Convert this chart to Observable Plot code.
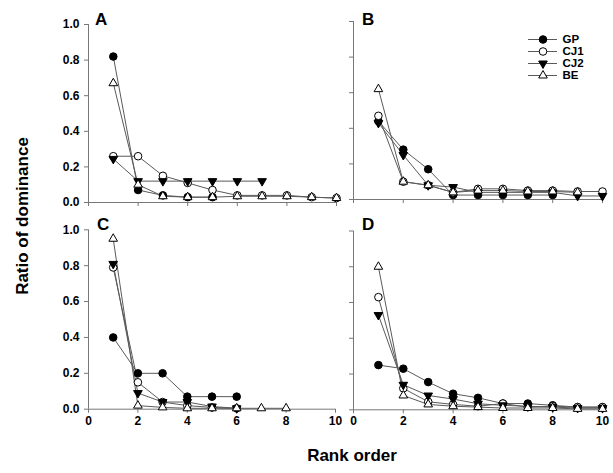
<!DOCTYPE html>
<html><head><meta charset="utf-8">
<script src="https://cdn.jsdelivr.net/npm/d3@7"></script>
<script src="https://cdn.jsdelivr.net/npm/@observablehq/plot@0.6"></script>
<style>
body{margin:0;background:#fff;}
#chart{position:relative;width:613px;height:473px;font-family:"Liberation Sans",Arial,sans-serif;overflow:hidden;}
#chart svg{position:absolute;overflow:visible;background:transparent;}
.lab{position:absolute;font-weight:bold;font-size:17px;color:#000;white-space:nowrap;line-height:1;font-family:"Liberation Sans",Arial,sans-serif;}
</style></head><body><div id="chart"></div>
<script>
const series = ["GP","CJ1","CJ2","BE"];
const rankTicks = [0,2,4,6,8,10];
const ratioTicks = [0,0.2,0.4,0.6,0.8,1.0];
const panelNames = ["A","B","C","D"];

// Panel A
const A_GP  = [0.82,0.07,0.04,0.03,0.03];
const A_CJ1 = [0.26,0.26,0.15,0.11,0.07,0.04,0.04,0.04,0.03,0.025];
const A_CJ2 = [0.245,0.12,0.12,0.12,0.12,0.12,0.12];
const A_BE  = [0.67,0.10,0.035,0.03,0.03,0.035,0.035,0.035,0.03,0.025];
// Panel B
const B_GP  = [0.44,0.28,0.17,0.025,0.025,0.025,0.025,0.025];
const B_CJ1 = [0.47,0.10,0.08,0.04,0.06,0.06,0.05,0.05,0.045,0.045];
const B_CJ2 = [0.43,0.25,0.08,0.07,0.04,0.04,0.04,0.04,0.02,0.02];
const B_BE  = [0.62,0.10,0.08,0.04,0.05,0.05,0.045,0.045,0.04];
// Panel C
const C_GP  = [0.40,0.20,0.20,0.07,0.07,0.07];
const C_CJ1 = [0.79,0.15,0.04,0.02,0.01,0.005];
const C_CJ2 = [0.81,0.09,0.04,0.04,0.015,0.005];
const C_BE  = [0.95,0.02,0.01,0.005,0.005,0.005,0.005,0.005];
// Panel D
const D_GP  = [0.25,0.23,0.155,0.09,0.067,0.035,0.035,0.025,0.015,0.015];
const D_CJ1 = [0.63,0.12,0.045,0.03,0.02,0.035,0.015,0.02,0.015,0.015];
const D_CJ2 = [0.53,0.14,0.08,0.06,0.034,0.025,0.02,0.015,0.01,0.01];
const D_BE  = [0.80,0.08,0.03,0.02,0.015,0.01,0.01,0.01,0.005,0.005];

const panelData = {
  A: [A_GP, A_CJ1, A_CJ2, A_BE],
  B: [B_GP, B_CJ1, B_CJ2, B_BE],
  C: [C_GP, C_CJ1, C_CJ2, C_BE],
  D: [D_GP, D_CJ1, D_CJ2, D_BE]
};

const lineColor = "#5a5a5a";
const axisColor = "#777";
const fontFam = "'Liberation Sans', Arial, sans-serif";

const downTriangle = {
  draw(ctx, size) {
    const y = -Math.sqrt(size / (Math.sqrt(3) * 3));
    ctx.moveTo(0, -y * 2);
    ctx.lineTo(-Math.sqrt(3) * y, y);
    ctx.lineTo(Math.sqrt(3) * y, y);
    ctx.closePath();
  }
};
const styles = {
  GP:  {symbol: "circle", fill: "black", r: 3.8},
  CJ1: {symbol: "circle", fill: "white", r: 3.8},
  CJ2: {symbol: downTriangle, fill: "black", r: 3.2},
  BE:  {symbol: "triangle", fill: "white", r: 3.2}
};

const layout = {
  A: {left: 0,   top: 0,   width: 345, height: 215, mL: 88, mR: 9,  mT: 24,   mB: 13,   yLab: true,  xLab: false, lx: 95,  ly: 11},
  B: {left: 340, top: 0,   width: 273, height: 215, mL: 13, mR: 11, mT: 21,   mB: 16,   yLab: false, xLab: false, lx: 362, ly: 11},
  C: {left: 0,   top: 215, width: 345, height: 215, mL: 88, mR: 10, mT: 14.3, mB: 21.3, yLab: true,  xLab: true,  lx: 97,  ly: 216},
  D: {left: 340, top: 215, width: 273, height: 215, mL: 13, mR: 11, mT: 15.5, mB: 20.7, yLab: false, xLab: true,  lx: 362, ly: 216}
};

const chart = document.getElementById("chart");

for (const p of panelNames) {
  const L = layout[p];
  const rows = [];
  panelData[p].forEach((vals, si) => vals.forEach((v, i) => rows.push({series: series[si], rank: i + 1, value: v})));
  const marks = [
    Plot.ruleY([0], {stroke: axisColor}),
    Plot.ruleX([0], {stroke: axisColor}),
    Plot.axisY(ratioTicks, {anchor: "left", tickSize: 4, tickPadding: 5, stroke: axisColor, fill: "black",
      fontSize: 12, fontWeight: "bold", fontFamily: fontFam, tickFormat: L.yLab ? d3.format(".1f") : () => "", label: null}),
    Plot.axisX(rankTicks, {anchor: "bottom", tickSize: 4, tickPadding: 3, stroke: axisColor, fill: "black",
      fontSize: 12, fontWeight: "bold", fontFamily: fontFam, tickFormat: L.xLab ? (d => String(d)) : () => "", label: null})
  ];
  for (const s of series) {
    marks.push(Plot.line(rows.filter(d => d.series === s), {x: "rank", y: "value", stroke: lineColor, strokeWidth: 1}));
  }
  for (const s of series) {
    const st = styles[s];
    marks.push(Plot.dot(rows.filter(d => d.series === s), {x: "rank", y: "value", symbol: st.symbol, r: st.r,
      fill: st.fill, stroke: "black", strokeWidth: 1}));
  }
  const svg = Plot.plot({
    width: L.width, height: L.height,
    marginLeft: L.mL, marginRight: L.mR, marginTop: L.mT, marginBottom: L.mB,
    x: {domain: [0, 10], axis: null},
    y: {domain: [0, 1], axis: null},
    style: {background: "transparent", fontFamily: fontFam, overflow: "visible"},
    marks
  });
  svg.style.left = L.left + "px";
  svg.style.top = L.top + "px";
  chart.appendChild(svg);

  const lab = document.createElement("div");
  lab.className = "lab";
  lab.textContent = p;
  lab.style.left = L.lx + "px";
  lab.style.top = L.ly + "px";
  chart.appendChild(lab);
}

// Legend (in panel B)
const legend = Plot.plot({
  width: 82, height: 64,
  marginLeft: 0, marginRight: 53, marginTop: 0, marginBottom: 0,
  x: {axis: null},
  y: {type: "point", domain: series, range: [8, 56], axis: null},
  style: {background: "transparent", overflow: "visible", fontFamily: fontFam},
  marks: [
    Plot.ruleY(series, {y: d => d, stroke: lineColor, strokeWidth: 1}),
    ...series.map(s => Plot.dot([s], {y: d => d, symbol: styles[s].symbol, r: styles[s].r, fill: styles[s].fill, stroke: "black", strokeWidth: 1})),
    Plot.text(series, {y: d => d, text: d => d, frameAnchor: "right", textAnchor: "start", dx: 5,
      fontSize: 11.5, fontWeight: "bold", fill: "black", fontFamily: fontFam})
  ]
});
legend.style.left = "528px";
legend.style.top = "25px";
chart.appendChild(legend);

// Shared axis titles
const yt = document.createElement("div");
yt.className = "lab";
yt.textContent = "Ratio of dominance";
yt.style.left = "22px";
yt.style.top = "216px";
yt.style.transform = "translate(-50%,-50%) rotate(-90deg)";
chart.appendChild(yt);

const xt = document.createElement("div");
xt.className = "lab";
xt.textContent = "Rank order";
xt.style.left = "352px";
xt.style.top = "455px";
xt.style.transform = "translate(-50%,-50%)";
chart.appendChild(xt);
</script>
</body></html>
